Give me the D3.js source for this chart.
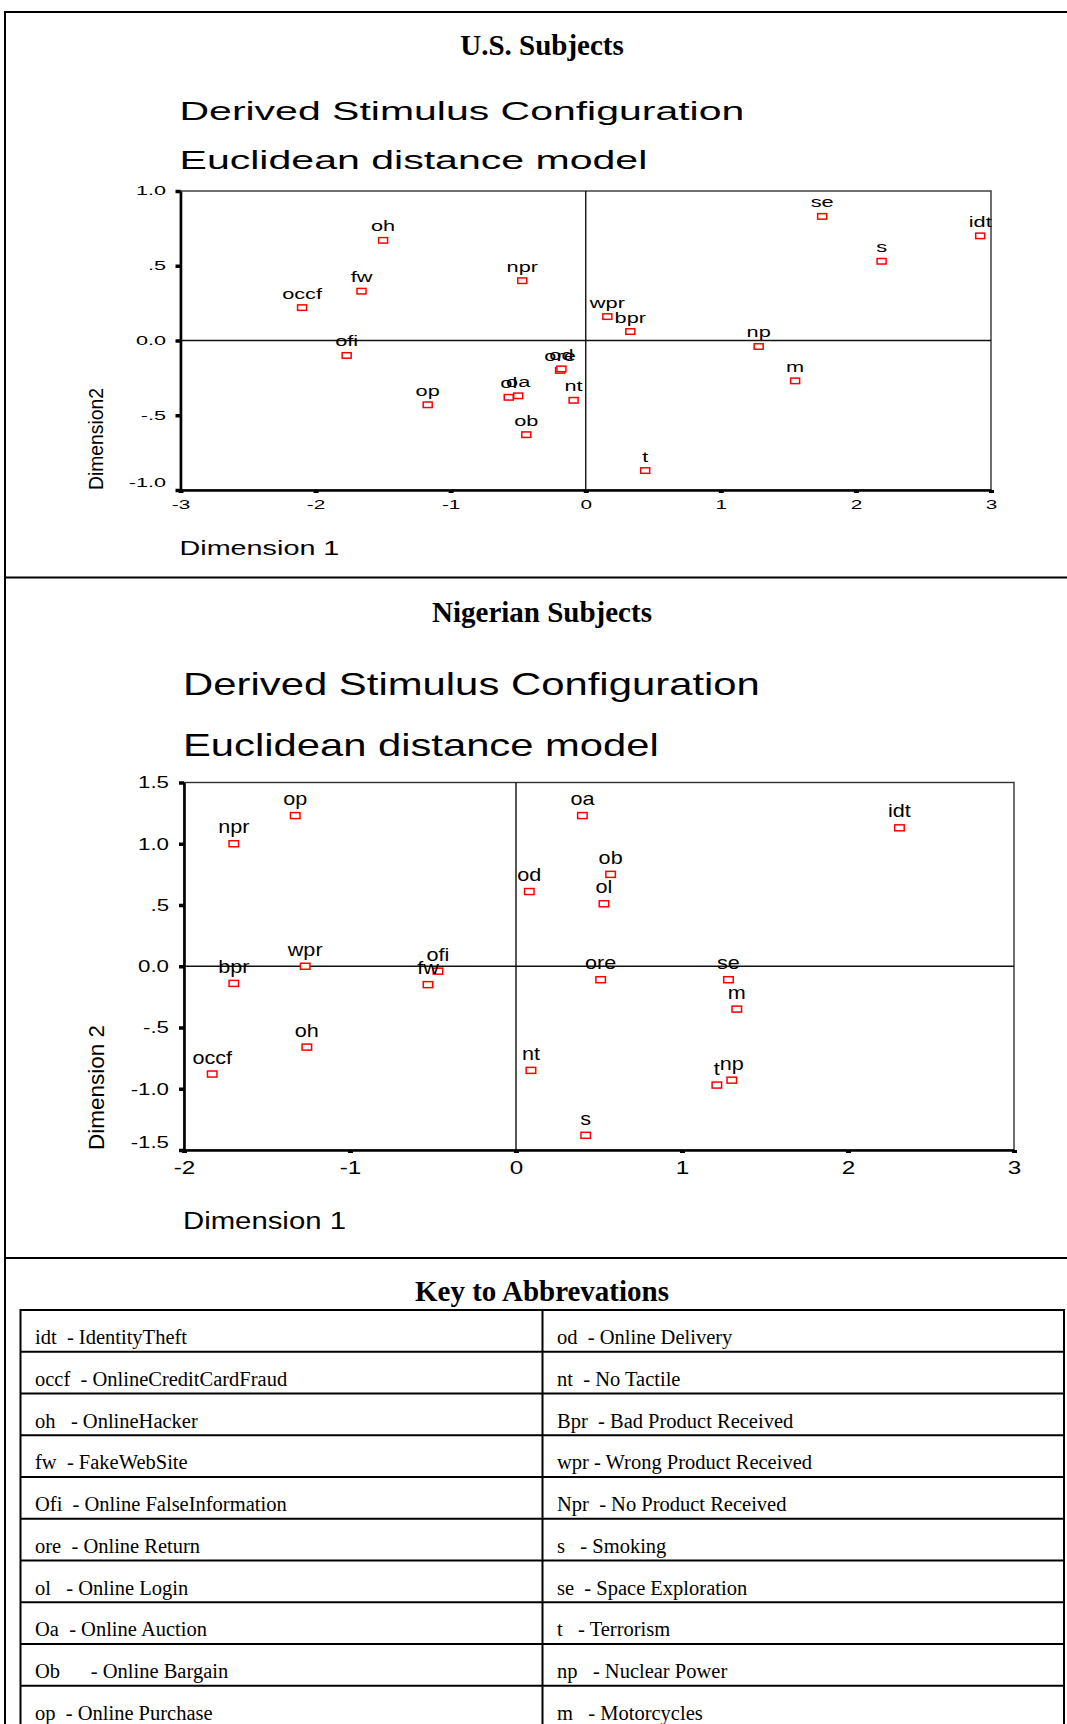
<!DOCTYPE html>
<html>
<head>
<meta charset="UTF-8">
<title>Derived Stimulus Configuration</title>
<script src="https://cdn.jsdelivr.net/npm/d3@7"></script>
<style>
  body { margin: 0; background: #fff; }
  .serif { font-family: 'Liberation Serif', 'Times New Roman', serif; }
  .sans { font-family: 'Liberation Sans', Arial, sans-serif; }
</style>
</head>
<body>
<div id="page"></div>
<script>
// U.S. subjects
var usCodes = ["idt","occf","oh","fw","ofi","ore","od","ol","oa","ob","op","nt","bpr","wpr","npr","s","se","t","np","m"];
var usDim1  = [2.92,-2.10,-1.50,-1.66,-1.77,-0.19,-0.18,-0.57,-0.50,-0.44,-1.17,-0.09,0.33,0.16,-0.47,2.19,1.75,0.44,1.28,1.55];
var usDim2  = [0.70,0.22,0.67,0.33,-0.10,-0.20,-0.19,-0.38,-0.37,-0.63,-0.43,-0.40,0.06,0.16,0.40,0.53,0.83,-0.87,-0.04,-0.27];
var usXTicks = [-3,-2,-1,0,1,2,3];
var usYTicks = [-1,-0.5,0,0.5,1];
var usYTickLabels = ["-1.0","-.5","0.0",".5","1.0"];

// Nigerian subjects
var ngCodes = ["op","npr","wpr","bpr","ofi","fw","oh","occf","od","nt","s","oa","idt","ob","ol","ore","se","m","t","np"];
var ngDim1  = [-1.33,-1.70,-1.27,-1.70,-0.47,-0.53,-1.26,-1.83,0.08,0.09,0.42,0.40,2.31,0.57,0.53,0.51,1.28,1.33,1.21,1.30];
var ngDim2  = [1.23,1.00,0.00,-0.14,-0.04,-0.15,-0.66,-0.88,0.61,-0.85,-1.38,1.23,1.13,0.75,0.51,-0.11,-0.11,-0.35,-0.97,-0.93];
var ngXTicks = [-2,-1,0,1,2,3];
var ngYTicks = [-1.5,-1,-0.5,0,0.5,1,1.5];
var ngYTickLabels = ["-1.5","-1.0","-.5","0.0",".5","1.0","1.5"];

// key table
var keyLeft = ["idt  - IdentityTheft","occf  - OnlineCreditCardFraud","oh   - OnlineHacker","fw  - FakeWebSite",
  "Ofi  - Online FalseInformation","ore  - Online Return","ol   - Online Login","Oa  - Online Auction",
  "Ob      - Online Bargain","op  - Online Purchase"];
var keyRight = ["od  - Online Delivery","nt  - No Tactile","Bpr  - Bad Product Received","wpr - Wrong Product Received",
  "Npr  - No Product Received","s   - Smoking","se  - Space Exploration","t   - Terrorism",
  "np   - Nuclear Power","m   - Motorcycles"];

var svg = d3.select("#page").append("svg")
    .attr("width", 1067)
    .attr("height", 1724);

// page frame and separators
svg.append("path").attr("d", "M5,1724V12H1067")
    .attr("fill", "none").attr("stroke", "#000").attr("stroke-width", 2);
[577.5, 1258].forEach(function(yy){
  svg.append("line").attr("x1", 5).attr("x2", 1067).attr("y1", yy).attr("y2", yy)
      .attr("stroke", "#000").attr("stroke-width", 2.2);
});

// sans text squeezed/stretched to the width seen in the picture
function fitText(parent, str, x, y, size, width, rotate) {
  var t = parent.append("text").attr("class", "sans").attr("font-size", size).text(str);
  var sx = width / t.node().getComputedTextLength();
  t.attr("transform", "translate(" + x + "," + y + ")" + (rotate ? " rotate(-90)" : "") + " scale(" + sx + ",1)");
  return t;
}

function title(str, y) {
  svg.append("text").attr("class", "serif")
      .attr("x", 542).attr("y", y)
      .attr("text-anchor", "middle")
      .attr("font-size", 29).attr("font-weight", "bold")
      .text(str);
}

function drawChart(c) {
  var g = svg.append("g");
  var x = d3.scaleLinear().domain(c.xDomain).range([c.left, c.right]);
  var y = d3.scaleLinear().domain(c.yDomain).range([c.bottom, c.top]);

  fitText(g, "Derived Stimulus Configuration", c.left - 1, c.sub1, c.subSize, c.sub1W);
  fitText(g, "Euclidean distance model", c.left - 1, c.sub2, c.subSize, c.sub2W);

  // frame
  g.append("rect")
      .attr("x", c.left).attr("y", c.top)
      .attr("width", c.right - c.left).attr("height", c.bottom - c.top)
      .attr("fill", "none").attr("stroke", "#333").attr("stroke-width", 1.4);
  // reference lines through the origin
  g.append("line").attr("x1", x(0)).attr("x2", x(0)).attr("y1", c.top).attr("y2", c.bottom)
      .attr("stroke", "#111").attr("stroke-width", 1.4);
  g.append("line").attr("x1", c.left).attr("x2", c.right).attr("y1", y(0)).attr("y2", y(0))
      .attr("stroke", "#111").attr("stroke-width", 1.4);

  var xAxis = g.append("g")
      .attr("transform", "translate(0," + c.bottom + ")")
      .call(d3.axisBottom(x).tickValues(c.xTicks).tickFormat(function(d){ return String(d); })
        .tickSize(3).tickSizeOuter(0));
  var yAxis = g.append("g")
      .attr("transform", "translate(" + c.left + ",0)")
      .call(d3.axisLeft(y).tickValues(c.yTicks).tickFormat(function(d, i){ return c.yTickLabels[i]; })
        .tickSize(5).tickSizeOuter(0));

  [xAxis, yAxis].forEach(function(a){
    a.attr("font-family", null).attr("font-size", null);
    a.select(".domain").attr("stroke", "#000").attr("stroke-width", 2.6);
  });
  xAxis.selectAll(".tick line").attr("stroke", "#000").attr("stroke-width", 5);
  yAxis.selectAll(".tick line").attr("stroke", "#000").attr("stroke-width", 3.5);
  xAxis.selectAll("text").attr("class", "sans").attr("fill", "#000")
      .attr("font-size", c.xTickSize)
      .attr("y", c.xTickY).attr("dy", 0)
      .attr("transform", "scale(" + c.tickSx + ",1)");
  yAxis.selectAll("text").attr("class", "sans").attr("fill", "#000")
      .attr("font-size", c.yTickSize)
      .attr("x", -c.yTickPad / c.yTickSx)
      .attr("dy", function(d){ return d === c.yDomain[0] ? (0.32 * c.yTickSize - c.lowShift) + "px" : "0.32em"; })
      .attr("transform", "scale(" + c.yTickSx + ",1)");

  // axis titles
  fitText(g, "Dimension 1", c.left - 1, c.dim1Y, c.dimSize, c.dim1W);
  fitText(g, c.dim2Text, c.dim2X, c.bottom, c.dimSize, c.dim2W, true);

  // points
  g.selectAll("rect.pt")
      .data(c.codes)
      .enter()
      .append("rect")
      .attr("class", "pt")
      .attr("x", function(d, i){ return x(c.d1[i]) - c.mw / 2; })
      .attr("y", function(d, i){ return y(c.d2[i]) - c.mh / 2; })
      .attr("width", c.mw).attr("height", c.mh)
      .attr("fill", "#fff").attr("stroke", "#ff0000").attr("stroke-width", 1.5);

  g.selectAll("text.lbl")
      .data(c.codes)
      .enter()
      .append("text")
      .attr("class", "lbl sans")
      .attr("font-size", c.lblSize)
      .attr("text-anchor", "middle")
      .attr("transform", function(d, i){
        return "translate(" + x(c.d1[i]) + "," + (y(c.d2[i]) - c.lblOff) + ") scale(" + c.lblSx + ",1)";
      })
      .text(function(d){ return d; });
}

title("U.S. Subjects", 55);
drawChart({
  codes: usCodes, d1: usDim1, d2: usDim2,
  xDomain: [-3, 3], yDomain: [-1, 1],
  xTicks: usXTicks, yTicks: usYTicks, yTickLabels: usYTickLabels,
  left: 180.5, right: 991, top: 191, bottom: 490,
  sub1: 120, sub2: 169, subSize: 26.5, sub1W: 565, sub2W: 468,
  xTickSize: 13, xTickY: 19, tickSx: 1.6,
  yTickSize: 12, yTickPad: 14.5, yTickSx: 1.8, lowShift: 7,
  dim1Y: 555, dim1W: 160, dimSize: 20,
  dim2Text: "Dimension2", dim2X: 102.5, dim2W: 102,
  mw: 9, mh: 5.5, lblSize: 15, lblSx: 1.45, lblOff: 9
});

title("Nigerian Subjects", 622);
drawChart({
  codes: ngCodes, d1: ngDim1, d2: ngDim2,
  xDomain: [-2, 3], yDomain: [-1.5, 1.5],
  xTicks: ngXTicks, yTicks: ngYTicks, yTickLabels: ngYTickLabels,
  left: 184, right: 1014, top: 782.5, bottom: 1150,
  sub1: 695, sub2: 755.5, subSize: 32, sub1W: 577, sub2W: 476,
  xTickSize: 18, xTickY: 24, tickSx: 1.35,
  yTickSize: 17, yTickPad: 15, yTickSx: 1.31, lowShift: 8,
  dim1Y: 1229, dim1W: 163, dimSize: 23,
  dim2Text: "Dimension 2", dim2X: 103.5, dim2W: 125,
  mw: 9.5, mh: 6, lblSize: 18, lblSx: 1.2, lblOff: 10.5
});

// key to abbreviations
title("Key to Abbrevations", 1301);
var rowY = d3.scaleLinear().domain([0, 10]).range([1310, 1727.5]);
var tbl = svg.append("g");
d3.range(11).forEach(function(i){
  tbl.append("line").attr("x1", 20.5).attr("x2", 1064).attr("y1", rowY(i)).attr("y2", rowY(i))
      .attr("stroke", "#000").attr("stroke-width", 2);
});
[20.5, 542.5, 1064].forEach(function(xx){
  tbl.append("line").attr("x1", xx).attr("x2", xx).attr("y1", 1309).attr("y2", 1724)
      .attr("stroke", "#000").attr("stroke-width", 2);
});
tbl.selectAll("text.kl")
    .data(keyLeft)
    .enter()
    .append("text")
    .attr("class", "kl serif")
    .attr("x", 35)
    .attr("y", function(d, i){ return rowY(i) + 34; })
    .attr("font-size", 20.5)
    .style("white-space", "pre")
    .text(function(d){ return d; });
tbl.selectAll("text.kr")
    .data(keyRight)
    .enter()
    .append("text")
    .attr("class", "kr serif")
    .attr("x", 557)
    .attr("y", function(d, i){ return rowY(i) + 34; })
    .attr("font-size", 20.5)
    .style("white-space", "pre")
    .text(function(d){ return d; });
</script>
</body>
</html>
